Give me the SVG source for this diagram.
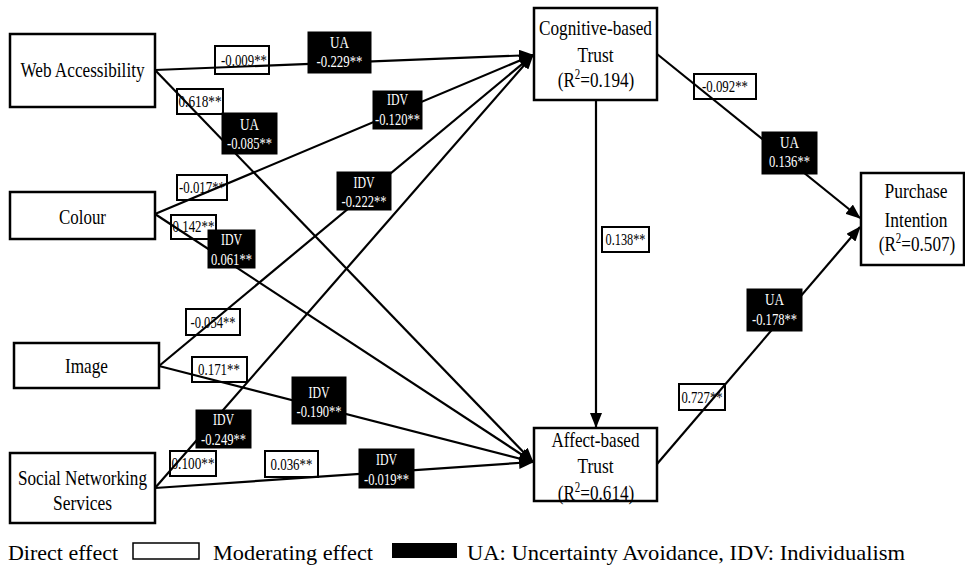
<svg xmlns="http://www.w3.org/2000/svg" width="965" height="566" viewBox="0 0 965 566">
<defs>
<style>
text{font-family:"Liberation Serif","Times New Roman",serif;fill:#000}
.node rect{fill:#fff;stroke:#000;stroke-width:2.5}
.nt{font-size:22px;text-anchor:middle}
.wl rect{fill:#fff;stroke:#000;stroke-width:2}
.wl text{font-size:17px;text-anchor:middle}
.bl rect{fill:#000;stroke:#000;stroke-width:1}
.bl text{font-size:16px;text-anchor:middle;fill:#fff}
.conn path{fill:none;stroke:#000;stroke-width:2.2}
.leg{font-size:22px}
</style>
<marker id="arr" viewBox="0 0 15 12" refX="14" refY="6" markerWidth="15" markerHeight="12" markerUnits="userSpaceOnUse" orient="auto">
<path d="M0,0 L15,6 L0,12 z" fill="#000"/>
</marker>
</defs>
<rect width="965" height="566" fill="#fff"/>

<g id="direct-labels" class="wl">
<rect x="215" y="46" width="54" height="28"/><text x="244" y="66" textLength="46" lengthAdjust="spacingAndGlyphs">-0.009**</text>
<rect x="177" y="89" width="46" height="25"/><text x="200" y="107" textLength="43" lengthAdjust="spacingAndGlyphs">0.618**</text>
<rect x="177" y="175" width="50" height="25"/><text x="202" y="193" textLength="46" lengthAdjust="spacingAndGlyphs">-0.017**</text>
<rect x="171" y="215" width="45" height="24"/><text x="193.5" y="232" textLength="42" lengthAdjust="spacingAndGlyphs">0.142**</text>
<rect x="186" y="309" width="54" height="26"/><text x="213" y="328" textLength="45" lengthAdjust="spacingAndGlyphs">-0.054**</text>
<rect x="192" y="357" width="55" height="25"/><text x="219" y="375" textLength="42" lengthAdjust="spacingAndGlyphs">0.171**</text>
<rect x="170" y="451" width="46" height="25"/><text x="193" y="469" textLength="43" lengthAdjust="spacingAndGlyphs">0.100**</text>
<rect x="265" y="451" width="53" height="26"/><text x="291.5" y="470" textLength="42" lengthAdjust="spacingAndGlyphs">0.036**</text>
<rect x="694" y="74" width="62" height="25"/><text x="725" y="92" textLength="46" lengthAdjust="spacingAndGlyphs">-0.092**</text>
<rect x="602" y="227" width="47" height="25"/><text x="625.5" y="245" textLength="40" lengthAdjust="spacingAndGlyphs">0.138**</text>
<rect x="679" y="384" width="46" height="26"/><text x="702" y="403" textLength="41" lengthAdjust="spacingAndGlyphs">0.727**</text>
</g>

<g id="connectors" class="conn">
<path d="M155,70 L533,55" marker-end="url(#arr)"/>
<path d="M155,70 L533,462" marker-end="url(#arr)"/>
<path d="M155,214 L533,55" marker-end="url(#arr)"/>
<path d="M155,214 L533,462" marker-end="url(#arr)"/>
<path d="M159,366 L533,55" marker-end="url(#arr)"/>
<path d="M159,366 L533,462" marker-end="url(#arr)"/>
<path d="M155,488 L533,55" marker-end="url(#arr)"/>
<path d="M155,488 L533,462" marker-end="url(#arr)"/>
<path d="M596,100 L596,427" marker-end="url(#arr)"/>
<path d="M657,54 L860,218" marker-end="url(#arr)"/>
<path d="M657,464 L860,227" marker-end="url(#arr)"/>
</g>

<g id="web-accessibility" class="node">
<rect x="10" y="34" width="145" height="73"/>
<text class="nt" x="82.5" y="77" textLength="124" lengthAdjust="spacingAndGlyphs">Web Accessibility</text>
</g>
<g id="colour" class="node">
<rect x="10" y="192" width="145" height="47"/>
<text class="nt" x="82.5" y="224" textLength="47" lengthAdjust="spacingAndGlyphs">Colour</text>
</g>
<g id="image" class="node">
<rect x="14" y="343" width="145" height="45"/>
<text class="nt" x="86.5" y="373" textLength="43" lengthAdjust="spacingAndGlyphs">Image</text>
</g>
<g id="social-networking-services" class="node">
<rect x="10" y="453" width="145" height="70"/>
<text class="nt" x="82.5" y="485" textLength="129" lengthAdjust="spacingAndGlyphs">Social Networking</text>
<text class="nt" x="82.5" y="510" textLength="59" lengthAdjust="spacingAndGlyphs">Services</text>
</g>
<g id="cognitive-based-trust" class="node">
<rect x="534" y="8" width="123" height="92"/>
<text class="nt" x="595.5" y="35" textLength="113" lengthAdjust="spacingAndGlyphs">Cognitive-based</text>
<text class="nt" x="595.5" y="62" textLength="36" lengthAdjust="spacingAndGlyphs">Trust</text>
<text class="nt" transform="translate(596,87) scale(0.78,1)">(R<tspan font-size="14" dy="-8">2</tspan><tspan dy="8">=0.194)</tspan></text>
</g>
<g id="affect-based-trust" class="node">
<rect x="534" y="428" width="123" height="73"/>
<text class="nt" x="595.5" y="447" textLength="88" lengthAdjust="spacingAndGlyphs">Affect-based</text>
<text class="nt" x="595.5" y="473" textLength="36" lengthAdjust="spacingAndGlyphs">Trust</text>
<text class="nt" transform="translate(596,500) scale(0.78,1)">(R<tspan font-size="14" dy="-8">2</tspan><tspan dy="8">=0.614)</tspan></text>
</g>
<g id="purchase-intention" class="node">
<rect x="861" y="173" width="103" height="92"/>
<text class="nt" x="916" y="198" textLength="63" lengthAdjust="spacingAndGlyphs">Purchase</text>
<text class="nt" x="916" y="227" textLength="63" lengthAdjust="spacingAndGlyphs">Intention</text>
<text class="nt" transform="translate(917,251) scale(0.78,1)">(R<tspan font-size="14" dy="-8">2</tspan><tspan dy="8">=0.507)</tspan></text>
</g>

<g id="moderating-labels" class="bl">
<rect x="308" y="32" width="63" height="41"/><text x="339.5" y="48" textLength="19" lengthAdjust="spacingAndGlyphs">UA</text><text x="339.5" y="67" textLength="46" lengthAdjust="spacingAndGlyphs">-0.229**</text>
<rect x="222" y="113" width="55" height="41"/><text x="249.5" y="130" textLength="19" lengthAdjust="spacingAndGlyphs">UA</text><text x="249.5" y="149" textLength="45" lengthAdjust="spacingAndGlyphs">-0.085**</text>
<rect x="373" y="91" width="49" height="38"/><text x="397.5" y="105" textLength="21" lengthAdjust="spacingAndGlyphs">IDV</text><text x="397.5" y="125" textLength="45" lengthAdjust="spacingAndGlyphs">-0.120**</text>
<rect x="337" y="172" width="54" height="38"/><text x="364" y="188" textLength="21" lengthAdjust="spacingAndGlyphs">IDV</text><text x="364" y="207" textLength="45" lengthAdjust="spacingAndGlyphs">-0.222**</text>
<rect x="208" y="230" width="47" height="38"/><text x="231.5" y="245" textLength="21" lengthAdjust="spacingAndGlyphs">IDV</text><text x="231.5" y="265" textLength="41" lengthAdjust="spacingAndGlyphs">0.061**</text>
<rect x="292" y="377" width="54" height="47"/><text x="319" y="398" textLength="21" lengthAdjust="spacingAndGlyphs">IDV</text><text x="319" y="417" textLength="45" lengthAdjust="spacingAndGlyphs">-0.190**</text>
<rect x="196" y="410" width="55" height="38"/><text x="223.5" y="425" textLength="21" lengthAdjust="spacingAndGlyphs">IDV</text><text x="223.5" y="445" textLength="45" lengthAdjust="spacingAndGlyphs">-0.249**</text>
<rect x="359" y="449" width="55" height="39"/><text x="386.5" y="465" textLength="21" lengthAdjust="spacingAndGlyphs">IDV</text><text x="386.5" y="485" textLength="45" lengthAdjust="spacingAndGlyphs">-0.019**</text>
<rect x="762" y="132" width="55" height="42"/><text x="789.5" y="148" textLength="19" lengthAdjust="spacingAndGlyphs">UA</text><text x="789.5" y="167" textLength="41" lengthAdjust="spacingAndGlyphs">0.136**</text>
<rect x="747" y="289" width="55" height="42"/><text x="774.5" y="305" textLength="19" lengthAdjust="spacingAndGlyphs">UA</text><text x="774.5" y="325" textLength="45" lengthAdjust="spacingAndGlyphs">-0.178**</text>
</g>

<g id="legend">
<text class="leg" x="8" y="560" textLength="110" lengthAdjust="spacingAndGlyphs">Direct effect</text>
<rect x="133" y="543" width="66" height="16" fill="#fff" stroke="#000" stroke-width="1.5"/>
<text class="leg" x="213" y="560" textLength="160" lengthAdjust="spacingAndGlyphs">Moderating effect</text>
<rect x="392" y="543" width="65" height="15" fill="#000"/>
<text class="leg" x="467" y="560" textLength="438" lengthAdjust="spacingAndGlyphs">UA: Uncertainty Avoidance, IDV: Individualism</text>
</g>
</svg>
